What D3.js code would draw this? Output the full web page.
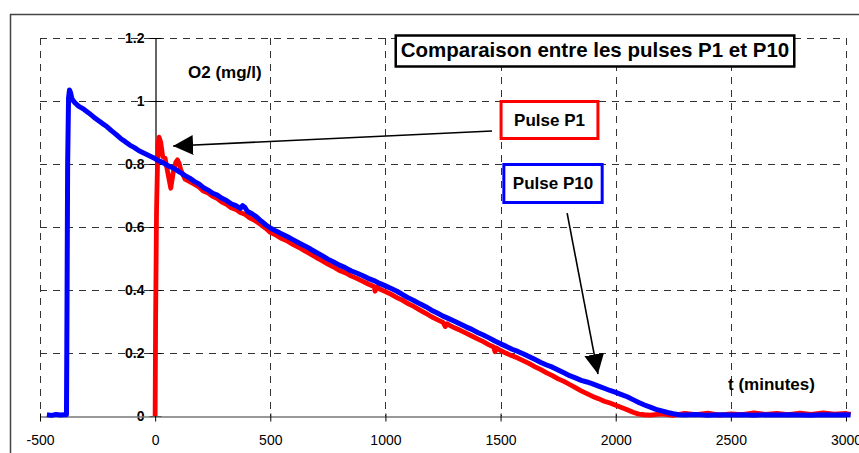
<!DOCTYPE html>
<html>
<head>
<meta charset="utf-8">
<script src="https://cdn.jsdelivr.net/npm/d3@7"></script>
<style>
  html, body { margin: 0; padding: 0; background: #fff; }
  svg { display: block; font-family: "Liberation Sans", Arial, sans-serif; }
</style>
</head>
<body>
<svg id="chart" width="859" height="453"></svg>
<script>
// ---------- DATA ----------
const chartTitle = "Comparaison entre les pulses P1 et P10";
const yAxisTitle = "O2 (mg/l)";
const xAxisTitle = "t (minutes)";
const seriesNames = ["Pulse P1", "Pulse P10"];

const xTicks = [-500, 0, 500, 1000, 1500, 2000, 2500, 3000];
const xTickLabels = ["-500", "0", "500", "1000", "1500", "2000", "2500", "3000"];
const yTicks = [0, 0.2, 0.4, 0.6, 0.8, 1, 1.2];
const yTickLabels = ["0", "0.2", "0.4", "0.6", "0.8", "1", "1.2"];

// Pulse P10 (blue): time (minutes), O2 (mg/l)
const p10Time = [-470, -450, -430, -410, -395, -385, -383, -380, -376, -372, -368, -362, -358, -345, -333,
  -310, -290, -270, -250, -230, -210, -190, -170, -150, -130, -110, -90, -70, -50, -30, -10,
  10, 30, 50, 70, 90, 110, 130, 150, 170, 190, 210, 230, 250, 270, 290, 310, 330, 350, 370, 380, 390, 400,
  420, 440, 460, 480, 500, 525, 550, 575, 600, 625, 650, 675, 700, 725, 750, 775, 800, 825, 850, 875,
  900, 925, 950, 975, 1000, 1025, 1050, 1075, 1100, 1125, 1150, 1175, 1200, 1225, 1250, 1275, 1300,
  1325, 1350, 1375, 1400, 1425, 1450, 1475, 1500, 1525, 1550, 1575, 1600, 1625, 1650, 1675, 1700,
  1725, 1750, 1775, 1800, 1825, 1850, 1875, 1900, 1925, 1950, 1975, 2000, 2025, 2050, 2075, 2100,
  2125, 2150, 2175, 2200, 2225, 2250, 2275, 2300, 2350, 2400, 2450, 2500, 2550, 2600, 2650, 2700,
  2750, 2800, 2850, 2900, 2950, 3000, 3020];
const p10O2 = [0.004, 0.002, 0.005, 0.003, 0.004, 0.004, 0.30, 0.80, 1.01, 1.035, 1.028, 1.01, 1.003, 0.992, 0.984,
  0.974, 0.963, 0.951, 0.940, 0.929, 0.919, 0.906, 0.894, 0.881, 0.871, 0.860, 0.852, 0.842, 0.835, 0.828, 0.821,
  0.812, 0.806, 0.797, 0.790, 0.782, 0.773, 0.763, 0.755, 0.745, 0.737, 0.725, 0.717, 0.707, 0.701, 0.691, 0.684, 0.674, 0.668, 0.659, 0.668, 0.662, 0.650,
  0.642, 0.632, 0.619, 0.607, 0.597, 0.587, 0.578, 0.569, 0.559, 0.549, 0.540, 0.530, 0.519, 0.509, 0.498, 0.489, 0.479, 0.471, 0.461, 0.454,
  0.446, 0.437, 0.430, 0.421, 0.413, 0.405, 0.396, 0.385, 0.375, 0.366, 0.356, 0.347, 0.336, 0.327, 0.317, 0.309, 0.301,
  0.292, 0.283, 0.275, 0.265, 0.257, 0.248, 0.238, 0.229, 0.221, 0.212, 0.205, 0.197, 0.188, 0.179, 0.170, 0.162,
  0.155, 0.146, 0.137, 0.128, 0.121, 0.113, 0.108, 0.102, 0.095, 0.088, 0.081, 0.075, 0.068, 0.061, 0.052, 0.043,
  0.035, 0.028, 0.021, 0.016, 0.011, 0.007, 0.004, 0.003, 0.005, 0.002, 0.004, 0.003, 0.004, 0.002, 0.004, 0.003,
  0.004, 0.003, 0.002, 0.004, 0.003, 0.004, 0.003];

// Pulse P1 (red): time (minutes), O2 (mg/l)
const p1Time = [0, 2, 6, 12, 17, 24, 33, 43, 55, 68, 79, 90, 97, 105, 111, 130,
  150, 170, 190, 210, 230, 250, 270, 290, 310, 330, 350, 370, 390, 410, 430, 460, 480, 500,
  525, 550, 575, 600, 625, 650, 675, 700, 725, 750, 775, 800, 825, 850, 875, 900, 925, 950, 955, 962,
  975, 1000, 1025, 1050, 1075, 1100, 1125, 1150, 1175, 1200, 1225, 1250, 1260, 1268, 1275, 1300,
  1325, 1350, 1375, 1400, 1425, 1450, 1470, 1476, 1482, 1500, 1525, 1550, 1575, 1600, 1625, 1650,
  1675, 1700, 1725, 1750, 1775, 1800, 1825, 1850, 1875, 1900, 1925, 1950, 1975, 2000, 2025, 2050,
  2075, 2100, 2125, 2150, 2200, 2250, 2300, 2350, 2400, 2450, 2500, 2550, 2600, 2650, 2700, 2750,
  2800, 2850, 2900, 2950, 3000, 3020];
const p1O2 = [0.0, 0.30, 0.65, 0.86, 0.885, 0.87, 0.823, 0.819, 0.772, 0.723, 0.776, 0.806, 0.813, 0.800, 0.782, 0.752,
  0.744, 0.736, 0.727, 0.714, 0.708, 0.697, 0.690, 0.679, 0.672, 0.661, 0.656, 0.646, 0.640, 0.629, 0.622, 0.607, 0.596, 0.583,
  0.574, 0.563, 0.555, 0.544, 0.535, 0.524, 0.514, 0.503, 0.493, 0.482, 0.473, 0.462, 0.455, 0.445, 0.437, 0.428, 0.419, 0.411, 0.396, 0.410,
  0.403, 0.395, 0.386, 0.376, 0.367, 0.356, 0.347, 0.336, 0.326, 0.315, 0.306, 0.297, 0.284, 0.293, 0.289, 0.280,
  0.272, 0.263, 0.254, 0.245, 0.236, 0.226, 0.219, 0.204, 0.216, 0.208, 0.199, 0.191, 0.184, 0.175, 0.166, 0.156,
  0.147, 0.137, 0.128, 0.118, 0.110, 0.100, 0.090, 0.080, 0.071, 0.062, 0.055, 0.047, 0.041, 0.034, 0.027, 0.020,
  0.012, 0.006, 0.004, 0.003, 0.007, 0.002, 0.008, 0.004, 0.009, 0.003, 0.007, 0.004, 0.010, 0.005, 0.008, 0.004,
  0.009, 0.005, 0.010, 0.006, 0.008, 0.005];

// Annotation anchors (data coordinates)
const arrowP1 = { from: [1463, 0.905], to: [78, 0.857] };
const arrowP10 = { from: [1789, 0.644], to: [1923, 0.133] };

// ---------- CHART ----------
const svg = d3.select("#chart");
const x = d3.scaleLinear().domain([-500, 3000]).range([40, 846]);
const y = d3.scaleLinear().domain([0, 1.2]).range([416, 38]);

// outer frame
svg.append("rect").attr("x", 10.5).attr("y", 14.5).attr("width", 900).attr("height", 500)
  .attr("fill", "#fff").attr("stroke", "#444").attr("stroke-width", 1.5);

// grid
const grid = svg.append("g").attr("stroke", "#333").attr("stroke-width", 1).attr("stroke-dasharray", "7,6");
grid.selectAll("line.h").data(yTicks.filter(d => d > 0)).join("line")
  .attr("x1", x(-500)).attr("x2", x(3000))
  .attr("y1", d => Math.round(y(d)) + 0.5).attr("y2", d => Math.round(y(d)) + 0.5);
grid.selectAll("line.v").data(xTicks.filter(d => d !== 0)).join("line")
  .attr("y1", y(1.2)).attr("y2", y(0))
  .attr("x1", d => Math.round(x(d)) + 0.5).attr("x2", d => Math.round(x(d)) + 0.5);

// y axis at t = 0
const yAxis = d3.axisLeft(y).tickValues(yTicks).tickFormat((d, i) => yTickLabels[i]).tickSizeInner(6).tickSizeOuter(0).tickPadding(5);
const gy = svg.append("g").attr("transform", `translate(${Math.round(x(0)) + 0.5},0)`).call(yAxis);
gy.select(".domain").attr("stroke", "#000").attr("stroke-width", 1.2);
gy.selectAll(".tick line").attr("stroke", "#000").attr("x2", -6).attr("x1", 6);
gy.selectAll(".tick text").attr("font-family", "Liberation Sans, Arial, sans-serif")
  .attr("font-size", 14).attr("font-weight", "bold").attr("fill", "#000").attr("x", -11);

// x axis at O2 = 0
const xAxis = d3.axisBottom(x).tickValues(xTicks).tickFormat((d, i) => xTickLabels[i]).tickSizeInner(5).tickSizeOuter(0).tickPadding(14);
const gx = svg.append("g").attr("transform", `translate(0,${Math.round(y(0)) + 0.5})`).call(xAxis);
gx.select(".domain").attr("stroke", "#777").attr("stroke-width", 1.6);
gx.selectAll(".tick line").attr("stroke", "#000").attr("y1", -3);
gx.selectAll(".tick text").attr("font-family", "Liberation Sans, Arial, sans-serif")
  .attr("font-size", 14).attr("fill", "#000");

// series
const line = d3.line().x(d => x(d[0])).y(d => y(d[1]));
const p1Data = p1Time.map((t, i) => [t, p1O2[i]]);
const p10Data = p10Time.map((t, i) => [t, p10O2[i]]);
svg.append("path").datum(p1Data).attr("d", line).attr("fill", "none")
  .attr("stroke", "#ff0000").attr("stroke-width", 4.8).attr("stroke-linejoin", "round");
svg.append("path").datum(p10Data).attr("d", line).attr("fill", "none")
  .attr("stroke", "#0000ff").attr("stroke-width", 5).attr("stroke-linejoin", "round");

// axis titles
svg.append("text").attr("x", 188).attr("y", 78).attr("font-size", 17).attr("font-weight", "bold").text(yAxisTitle);
svg.append("text").attr("x", 728).attr("y", 390).attr("font-size", 17).attr("font-weight", "bold").text(xAxisTitle);

// arrows
const defs = svg.append("defs");
defs.append("marker").attr("id", "ah").attr("viewBox", "0 0 20 20").attr("refX", 20).attr("refY", 10)
  .attr("markerWidth", 20).attr("markerHeight", 20).attr("markerUnits", "userSpaceOnUse").attr("orient", "auto")
  .append("path").attr("d", "M0,0 L20,10 L0,20 Z").attr("fill", "#000");
[arrowP1, arrowP10].forEach(a => {
  svg.append("line").attr("x1", x(a.from[0])).attr("y1", y(a.from[1]))
    .attr("x2", x(a.to[0])).attr("y2", y(a.to[1]))
    .attr("stroke", "#000").attr("stroke-width", 1.6).attr("marker-end", "url(#ah)");
});

// labelled boxes
function box(text, cx, baseline, size, color, padX, top, bottom, sw) {
  const g = svg.append("g");
  const r = g.append("rect");
  const t = g.append("text").attr("x", cx).attr("y", baseline).attr("text-anchor", "middle")
    .attr("font-size", size).attr("font-weight", "bold").attr("fill", "#000").text(text);
  const bb = t.node().getBBox();
  r.attr("x", bb.x - padX).attr("width", bb.width + 2 * padX).attr("y", top).attr("height", bottom - top)
    .attr("fill", "#fff").attr("stroke", color).attr("stroke-width", sw);
}
box(chartTitle, 595, 57, 20.5, "#000", 5, 35.5, 66.5, 2.5);
box(seriesNames[0], 549.5, 126, 17, "#ff0000", 13, 101.5, 138.5, 3);
box(seriesNames[1], 553, 189, 17, "#0000ff", 9, 164.5, 202.5, 3);
</script>
</body>
</html>
